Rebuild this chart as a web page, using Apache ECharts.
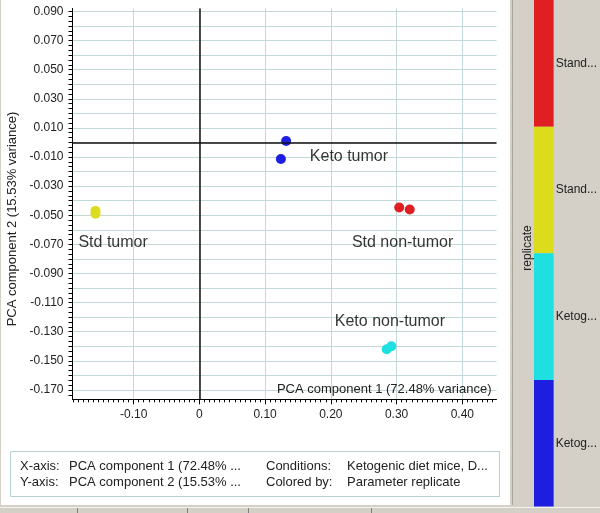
<!DOCTYPE html>
<html>
<head>
<meta charset="utf-8">
<script src="https://cdn.jsdelivr.net/npm/echarts@6/dist/echarts.min.js"></script>
<style>html,body{margin:0;padding:0;}#c{width:600px;height:513px;}</style>
</head>
<body>
<div id="c"></div>
<script>
// ---- data ----
const groupNames = ['Std tumor', 'Keto tumor', 'Std non-tumor', 'Keto non-tumor'];
const stdTumor = [[-0.158, -0.047], [-0.158, -0.049]];
const ketoTumor = [[0.132, 0.001], [0.124, -0.0114]];
const stdNonTumor = [[0.304, -0.0447], [0.320, -0.046]];
const ketoNonTumor = [[0.285, -0.142], [0.292, -0.140]];
// label anchors (data units)
const labelX = [-0.184, 0.168, 0.232, 0.206];
const labelY = [-0.069, -0.010, -0.069, -0.123];
// ticks
const xTickValues = [-0.1, 0, 0.1, 0.2, 0.3, 0.4];
const yGridValues = [-0.17, -0.16, -0.15, -0.14, -0.13, -0.12, -0.11, -0.10, -0.09, -0.08, -0.07, -0.06, -0.05, -0.04, -0.03, -0.02, -0.01, 0, 0.01, 0.02, 0.03, 0.04, 0.05, 0.06, 0.07, 0.08, 0.09];
const yTickLabels = [-0.17, -0.15, -0.13, -0.11, -0.09, -0.07, -0.05, -0.03, -0.01, 0.01, 0.03, 0.05, 0.07, 0.09];
// colour legend
const legendLabels = ['Stand...', 'Stand...', 'Ketog...', 'Ketog...'];
const legendValues = [1, 1, 1, 1];
// info box
const infoRows = [
  ['X-axis:', 'PCA component 1 (72.48% ...', 'Conditions:', 'Ketogenic diet mice, D...'],
  ['Y-axis:', 'PCA component 2 (15.53% ...', 'Colored by:', 'Parameter replicate']
];

const FONT = 'Liberation Sans, Arial, sans-serif';
const colors = { std: '#e01f22', stdT: '#dcdc1c', ketoN: '#1ee0e0', keto: '#1e1ee0' };
const legendColors = [colors.std, colors.stdT, colors.ketoN, colors.keto];
const gridColor = '#c3d9d9';

const chart = echarts.init(document.getElementById('c'), null, { renderer: 'canvas' });

const infoGraphics = [];
const infoX = [20, 69, 266, 347];
const infoY = [467, 483];
infoRows.forEach((row, r) => {
  row.forEach((t, c) => {
    infoGraphics.push({
      type: 'text', left: infoX[c], top: infoY[r] - 7, z: 10,
      style: { text: t, font: '13px ' + FONT, fill: '#222' }
    });
  });
});

const option = {
  backgroundColor: '#d4d0c8',
  animation: false,
  textStyle: { fontFamily: FONT },
  graphic: [
    { type: 'rect', shape: { x: 1, y: 0, width: 509, height: 505 }, style: { fill: '#ffffff' }, z: -100, silent: true },
    { type: 'line', shape: { x1: 512.5, y1: 0, x2: 512.5, y2: 505 }, style: { stroke: '#a8a49c', lineWidth: 1 }, z: -90 },
    { type: 'line', shape: { x1: 0, y1: 507.5, x2: 600, y2: 507.5 }, style: { stroke: '#f4f2ee', lineWidth: 1 }, z: -90 },
    { type: 'line', shape: { x1: 77.5, y1: 508, x2: 77.5, y2: 513 }, style: { stroke: '#808080', lineWidth: 1 }, z: -90 },
    { type: 'line', shape: { x1: 187.5, y1: 508, x2: 187.5, y2: 513 }, style: { stroke: '#808080', lineWidth: 1 }, z: -90 },
    { type: 'line', shape: { x1: 248.5, y1: 508, x2: 248.5, y2: 513 }, style: { stroke: '#808080', lineWidth: 1 }, z: -90 },
    { type: 'line', shape: { x1: 371.5, y1: 508, x2: 371.5, y2: 513 }, style: { stroke: '#808080', lineWidth: 1 }, z: -90 },
    { type: 'rect', shape: { x: 10.5, y: 451.5, width: 489, height: 45 }, style: { fill: '#ffffff', stroke: '#b8d0d0', lineWidth: 1 }, z: 5 },
    {
      type: 'text', x: 12, y: 219, rotation: Math.PI / 2, z: 10,
      style: { text: 'PCA component 2 (15.53% variance)', font: '13px ' + FONT, fill: '#222', align: 'center', verticalAlign: 'middle' }
    },
    {
      type: 'text', x: 528, y: 248, rotation: Math.PI / 2, z: 10,
      style: { text: 'replicate', font: '12px ' + FONT, fill: '#222', align: 'center', verticalAlign: 'middle' }
    }
  ].concat(infoGraphics),
  grid: [
    { left: 72.5, right: 103.5, top: 8.5, bottom: 113.7, containLabel: false },
    { left: 534, width: 22, top: 0, height: 506.5, containLabel: false }
  ],
  xAxis: [
    {
      gridIndex: 0, type: 'value', min: -0.193, max: 0.452, splitNumber: 6,
      name: 'PCA component 1 (72.48% variance)', nameLocation: 'end', nameGap: -5,
      nameTextStyle: { fontSize: 13, color: '#222', align: 'right', verticalAlign: 'bottom', padding: [0, 0, 3, 0], fontFamily: FONT },
      axisLine: { show: true, onZero: false, lineStyle: { color: '#000', width: 1 } },
      axisTick: { show: true, length: 5, customValues: xTickValues, lineStyle: { color: '#000' } },
      minorTick: { show: true, splitNumber: 13, length: 3, lineStyle: { color: '#000' } },
      axisLabel: {
        customValues: xTickValues, margin: 9, fontSize: 12, color: '#222', fontFamily: FONT,
        formatter: v => (Math.abs(v) < 1e-9 ? '0' : v.toFixed(2))
      },
      splitLine: { show: true, lineStyle: { color: gridColor, width: 1 } }
    },
    { gridIndex: 1, type: 'value', min: 0, max: 1, show: false }
  ],
  yAxis: [
    {
      gridIndex: 0, type: 'value', min: -0.1764, max: 0.092, splitNumber: 27,
      axisLine: { show: true, onZero: false, lineStyle: { color: '#000', width: 1 } },
      axisTick: { show: true, length: 4, customValues: yGridValues, lineStyle: { color: '#000' } },
      minorTick: { show: true, splitNumber: 3, length: 4, lineStyle: { color: '#000' } },
      axisLabel: {
        customValues: yTickLabels, margin: 9, fontSize: 12, color: '#222', fontFamily: FONT,
        formatter: v => v.toFixed(3)
      },
      splitLine: { show: true, lineStyle: { color: gridColor, width: 1 } }
    },
    {
      gridIndex: 1, type: 'category', inverse: true, position: 'right', data: legendLabels,
      axisLine: { show: false }, axisTick: { show: false }, splitLine: { show: false },
      axisLabel: { margin: 2, fontSize: 12, color: '#222', fontFamily: FONT }
    }
  ],
  series: [
    {
      name: groupNames[0], type: 'scatter', xAxisIndex: 0, yAxisIndex: 0, data: stdTumor,
      symbolSize: 10, itemStyle: { color: colors.stdT, opacity: 1 },
      markLine: {
        silent: true, symbol: 'none', label: { show: false },
        lineStyle: { color: '#111', width: 1.5, type: 'solid' },
        data: [{ xAxis: 0 }, { yAxis: 0 }]
      }
    },
    { name: groupNames[1], type: 'scatter', data: ketoTumor, symbolSize: 10, itemStyle: { color: colors.keto, opacity: 1 } },
    { name: groupNames[2], type: 'scatter', data: stdNonTumor, symbolSize: 10, itemStyle: { color: colors.std, opacity: 1 } },
    { name: groupNames[3], type: 'scatter', data: ketoNonTumor, symbolSize: 10, itemStyle: { color: colors.ketoN, opacity: 1 } },
    {
      name: 'labels', type: 'scatter', symbolSize: 0, silent: true,
      data: groupNames.map((n, i) => ({ name: n, value: [labelX[i], labelY[i]] })),
      label: { show: true, position: 'right', distance: 0, formatter: p => p.name, fontSize: 16, color: '#000', fontFamily: FONT }
    },
    {
      name: 'legendBar', type: 'bar', xAxisIndex: 1, yAxisIndex: 1, barWidth: '100%', silent: true,
      data: legendValues.map((v, i) => ({ value: v, itemStyle: { color: legendColors[i] } }))
    }
  ]
};
chart.setOption(option);
</script>
</body>
</html>
